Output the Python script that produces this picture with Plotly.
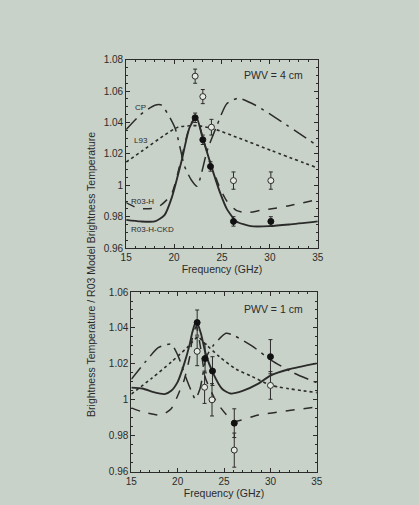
import plotly.graph_objects as go

# ---------------- Top panel: PWV = 4 cm ----------------
top_ckd_f = [15, 16.5, 18, 19, 19.75, 20.8, 21.6, 22.3, 23.0, 23.8, 24.8, 25.5, 26.5, 28, 30, 32, 35]
top_ckd_v = [0.978, 0.977, 0.977, 0.981, 0.992, 1.016, 1.0365, 1.0437, 1.030, 1.0138, 0.9953, 0.985, 0.977, 0.974, 0.974, 0.975, 0.977]

top_h_f = [15, 16, 17, 18.3, 19.7, 20.8, 21.6, 22.3, 23.0, 23.8, 24.8, 25.5, 26.5, 27.5, 29, 30.2, 32, 35]
top_h_v = [0.989, 0.986, 0.985, 0.986, 0.994, 1.018, 1.037, 1.0437, 1.030, 1.0145, 0.998, 0.990, 0.984, 0.9825, 0.984, 0.985, 0.987, 0.991]

top_l93_f = [15, 16.7, 19, 20.4, 22.4, 24.1, 26.8, 30.2, 35]
top_l93_v = [1.0148, 1.022, 1.032, 1.037, 1.038, 1.036, 1.030, 1.022, 1.011]

top_cp_f = [15, 16.5, 18, 18.7, 20.1, 21.1, 21.8, 22.4, 23.45, 24.5, 25.5, 26.7, 28.5, 31.2, 35]
top_cp_v = [1.0355, 1.045, 1.051, 1.051, 1.0365, 1.012, 1.0034, 0.9994, 1.022, 1.0385, 1.052, 1.0555, 1.051, 1.0406, 1.025]

top_fill_f = [22.2, 23.0, 23.8, 26.2, 30.1]
top_fill_v = [1.043, 1.029, 1.012, 0.977, 0.977]
top_fill_e = [0.003, 0.003, 0.003, 0.003, 0.003]

top_open_f = [22.2, 23.0, 23.9, 26.2, 30.1]
top_open_v = [1.0695, 1.0565, 1.037, 1.003, 1.003]
top_open_e = [0.0045, 0.0045, 0.005, 0.0055, 0.0055]

# ---------------- Bottom panel: PWV = 1 cm ----------------
bot_ckd_f = [15, 16.2, 17.5, 18.6, 19.3, 20.0, 20.7, 21.3, 21.6, 22.0, 22.5, 23.0, 23.8, 24.8, 25.7, 27, 28.7, 30, 32, 35]
bot_ckd_v = [1.0068, 1.0063, 1.0041, 1.0032, 1.005, 1.010, 1.020, 1.031, 1.038, 1.044, 1.037, 1.026, 1.015, 1.006, 1.0035, 1.005, 1.009, 1.0135, 1.017, 1.0203]

bot_h_f = [15, 16.2, 18.2, 19.3, 20.3, 20.7, 21.3, 21.6, 22.0, 22.5, 23.0, 24.2, 25.6, 26.2, 28.7, 35]
bot_h_v = [0.9955, 0.9933, 0.9915, 0.995, 1.006, 1.011, 1.024, 1.035, 1.041, 1.028, 1.012, 0.9987, 0.9897, 0.988, 0.9915, 0.996]

bot_l93_f = [15, 17.2, 19.3, 21, 22.2, 22.8, 24.5, 26.3, 28, 30.1, 35]
bot_l93_v = [1.0032, 1.012, 1.021, 1.029, 1.035, 1.032, 1.024, 1.017, 1.013, 1.008, 1.004]

bot_cp_f = [15, 16.5, 17.9, 19.3, 20, 20.7, 21.3, 21.9, 22.4, 23.1, 23.8, 25.2, 26, 28, 30.1, 32.5, 35]
bot_cp_v = [1.0114, 1.021, 1.029, 1.031, 1.025, 1.015, 1.007, 1.0005, 1.006, 1.024, 1.030, 1.037, 1.036, 1.030, 1.022, 1.015, 1.0095]

bot_fill_f = [22.1, 22.95, 23.75, 26.1, 30.0]
bot_fill_v = [1.043, 1.023, 1.016, 0.987, 1.024]
bot_fill_e = [0.007, 0.008, 0.008, 0.008, 0.0095]

bot_open_f = [22.1, 22.9, 23.7, 26.1, 30.0]
bot_open_v = [1.027, 1.007, 1.000, 0.972, 1.008]
bot_open_e = [0.008, 0.009, 0.009, 0.0095, 0.0077]

x_ticks = [15, 20, 25, 30, 35]
top_y_ticks = [0.96, 0.98, 1.0, 1.02, 1.04, 1.06, 1.08]
top_y_text = ["0.96", "0.98", "1", "1.02", "1.04", "1.06", "1.08"]
bot_y_ticks = [0.96, 0.98, 1.0, 1.02, 1.04, 1.06]
bot_y_text = ["0.96", "0.98", "1", "1.02", "1.04", "1.06"]

BG = "#c9d2c8"
INK = "#2b2b2b"
FONT = "Liberation Sans, Arial, sans-serif"
SMOOTH = 0.6

fig = go.Figure()

def add_panel(xa, ya, ckd, h, l93, cp, fill, opn):
    common = dict(xaxis=xa, yaxis=ya, mode="lines", showlegend=False, hoverinfo="skip")
    fig.add_trace(go.Scatter(x=cp[0], y=cp[1], line=dict(color=INK, width=1.5, dash="longdashdot", shape="spline", smoothing=SMOOTH), **common))
    fig.add_trace(go.Scatter(x=l93[0], y=l93[1], line=dict(color=INK, width=1.6, dash="dot", shape="spline", smoothing=SMOOTH), **common))
    fig.add_trace(go.Scatter(x=h[0], y=h[1], line=dict(color=INK, width=1.5, dash="dash", shape="spline", smoothing=SMOOTH), **common))
    fig.add_trace(go.Scatter(x=ckd[0], y=ckd[1], line=dict(color=INK, width=1.9, shape="spline", smoothing=SMOOTH), **common))
    fig.add_trace(go.Scatter(
        x=opn[0], y=opn[1], xaxis=xa, yaxis=ya, mode="markers", showlegend=False,
        marker=dict(symbol="circle", size=6, color="#e4eae2", line=dict(color=INK, width=1)),
        error_y=dict(type="data", array=opn[2], color=INK, thickness=1, width=2)))
    fig.add_trace(go.Scatter(
        x=fill[0], y=fill[1], xaxis=xa, yaxis=ya, mode="markers", showlegend=False,
        marker=dict(symbol="circle", size=6, color="#111111", line=dict(color="#111111", width=1)),
        error_y=dict(type="data", array=fill[2], color=INK, thickness=1, width=2)))

add_panel("x", "y", (top_ckd_f, top_ckd_v), (top_h_f, top_h_v), (top_l93_f, top_l93_v),
          (top_cp_f, top_cp_v), (top_fill_f, top_fill_v, top_fill_e), (top_open_f, top_open_v, top_open_e))
add_panel("x2", "y2", (bot_ckd_f, bot_ckd_v), (bot_h_f, bot_h_v), (bot_l93_f, bot_l93_v),
          (bot_cp_f, bot_cp_v), (bot_fill_f, bot_fill_v, bot_fill_e), (bot_open_f, bot_open_v, bot_open_e))

W, H = 419, 505

def px(x):
    return x / W

def py(y):
    return 1 - y / H

axis_common = dict(showline=True, linecolor=INK, linewidth=1, mirror="allticks", ticks="inside",
                   ticklen=4, tickcolor=INK, showgrid=False, zeroline=False,
                   tickfont=dict(family=FONT, size=10, color=INK))

xa_common = dict(axis_common, range=[15, 35], tickvals=x_ticks,
                 minor=dict(dtick=1, ticks="inside", ticklen=2, tickcolor=INK),
                 title=dict(text="Frequency (GHz)", font=dict(family=FONT, size=10.5, color=INK), standoff=2))

fig.update_layout(
    width=W, height=H,
    margin=dict(l=0, r=0, t=0, b=0),
    paper_bgcolor=BG, plot_bgcolor=BG,
    xaxis=dict(xa_common, domain=[px(123.7), px(321)], anchor="y"),
    yaxis=dict(axis_common, domain=[py(248), py(55)], range=[0.96, 1.08], anchor="x",
               tickvals=top_y_ticks, ticktext=top_y_text,
               minor=dict(dtick=0.005, tick0=0.96, ticks="inside", ticklen=2, tickcolor=INK)),
    xaxis2=dict(xa_common, domain=[px(129), px(320)], anchor="y2"),
    yaxis2=dict(axis_common, domain=[py(477), py(293)], range=[0.96, 1.06], anchor="x2",
                tickvals=bot_y_ticks, ticktext=bot_y_text,
                minor=dict(dtick=0.005, tick0=0.96, ticks="inside", ticklen=2, tickcolor=INK)),
)

def note(text, x, y, size=10, angle=0):
    fig.add_annotation(text=text, x=px(x), y=py(y), xref="paper", yref="paper", showarrow=False,
                       textangle=angle, xanchor="center", yanchor="middle",
                       font=dict(family=FONT, size=size, color=INK))

note("PWV = 4 cm", 275, 71, 10.5)
note("PWV = 1 cm", 275, 310, 10.5)
note("CP", 138, 104, 8)
note("L93", 139, 138, 8)
note("R03-H", 141, 200, 8)
note("R03-H-CKD", 151, 229, 8)
note("Brightness Temperature / R03 Model Brightness Temperature", 88, 275, 10.5, -90)

fig.write_html("out.html")
